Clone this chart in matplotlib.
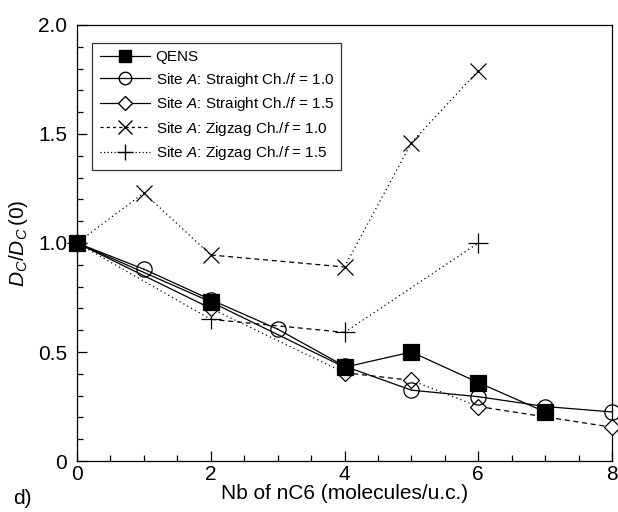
import numpy as np
import matplotlib
matplotlib.use('Agg')
import matplotlib.pyplot as plt
from matplotlib.lines import Line2D
from matplotlib.ticker import MultipleLocator, FixedFormatter, FixedLocator

plt.rcParams['font.family'] = ['Liberation Sans', 'DejaVu Sans']
plt.rcParams['mathtext.fontset'] = 'custom'
plt.rcParams['mathtext.rm'] = 'Liberation Sans'
plt.rcParams['mathtext.it'] = 'Liberation Sans:italic'

# data
x_qens = [0, 2, 4, 5, 6, 7]
y_qens = [1.0, 0.73, 0.43, 0.50, 0.36, 0.225]

x_str10 = [0, 1, 2, 3, 4, 5, 6, 7, 8]
y_str10 = [1.0, 0.88, 0.74, 0.605, 0.435, 0.325, 0.295, 0.25, 0.225]

x_str15 = [0, 2, 4, 5, 6, 8]
y_str15 = [1.0, 0.70, 0.405, 0.37, 0.25, 0.155]

x_zig10 = [0, 1, 2, 4, 5, 6]
y_zig10 = [1.0, 1.23, 0.945, 0.89, 1.46, 1.79]

x_zig15 = [0, 2, 4, 6]
y_zig15 = [1.0, 0.65, 0.59, 1.0]

labels = ['QENS',
          'Site $A$: Straight Ch./$f$ = 1.0',
          'Site $A$: Straight Ch./$f$ = 1.5',
          'Site $A$: Zigzag Ch./$f$ = 1.0',
          'Site $A$: Zigzag Ch./$f$ = 1.5']

SOLID = '-'
DASH = (0, (4, 3))
DOT = (0, (1, 2.5))

fig = plt.figure(figsize=(6.18, 5.12), dpi=100)
ax = fig.add_axes([0.1246, 0.0996, 0.8657, 0.8516])


def draw(xs, ys, styles, marker, ms, mfc):
    for i in range(len(xs) - 1):
        ax.plot(xs[i:i + 2], ys[i:i + 2], color='black', lw=0.9,
                linestyle=styles[i], clip_on=False, zorder=2)
    ax.plot(xs, ys, linestyle='none', marker=marker, ms=ms, mfc=mfc,
            mec='black', mew=0.9, clip_on=False, zorder=3)


draw(x_zig10, y_zig10, [DOT, DOT, DASH, DOT, DOT], 'x', 12, 'none')
draw(x_zig15, y_zig15, [DOT, DASH, DOT], '+', 15, 'none')
draw(x_str15, y_str15, [SOLID, DOT, DASH, DOT, DASH], 'D', 8.5, 'white')
draw(x_str10, y_str10, [SOLID] * 8, 'o', 11, 'none')
draw(x_qens, y_qens, [SOLID] * 5, 's', 11, 'black')

ax.set_xlim(0, 8)
ax.set_ylim(0, 2.0)
ax.xaxis.set_major_locator(MultipleLocator(2))
ax.xaxis.set_minor_locator(MultipleLocator(0.5))
ax.yaxis.set_major_locator(FixedLocator([0, 0.5, 1.0, 1.5, 2.0]))
ax.yaxis.set_major_formatter(FixedFormatter(['0', '0.5', '1.0', '1.5', '2.0']))
ax.yaxis.set_minor_locator(MultipleLocator(0.1))
ax.tick_params(which='both', direction='in', labelsize=15, width=0.9)
ax.tick_params(which='major', length=7)
ax.tick_params(axis='y', which='major', pad=7)
ax.tick_params(axis='x', which='major', pad=3)
ax.tick_params(which='minor', length=4)
for s in ax.spines.values():
    s.set_linewidth(0.9)

ax.set_xlabel('Nb of nC6 (molecules/u.c.)', fontsize=15, labelpad=0)
ax.set_ylabel('$D_C/D_C\\,$(0)', fontsize=15, labelpad=6)
fig.text(0.022, 0.015, 'd)', fontsize=15)

handles = [
    Line2D([], [], color='black', lw=0.9, marker='s', ms=9, mfc='black', mec='black'),
    Line2D([], [], color='black', lw=0.9, marker='o', ms=9, mfc='none', mec='black'),
    Line2D([], [], color='black', lw=0.9, marker='D', ms=7.5, mfc='white', mec='black'),
    Line2D([], [], color='black', lw=0.9, linestyle=(0, (2.5, 2.5)), marker='x', ms=10, mec='black'),
    Line2D([], [], color='black', lw=0.9, linestyle=(0, (1, 1.8)), marker='+', ms=12, mec='black'),
]
leg = ax.legend(handles, labels, loc='upper left', fontsize=11, frameon=True,
                fancybox=False, edgecolor='black', handlelength=3.3,
                labelspacing=0.42, borderpad=0.5, handletextpad=0.35,
                bbox_to_anchor=(0.014, 0.977))
leg.get_frame().set_linewidth(0.9)

fig.savefig('out.png', dpi=100)
